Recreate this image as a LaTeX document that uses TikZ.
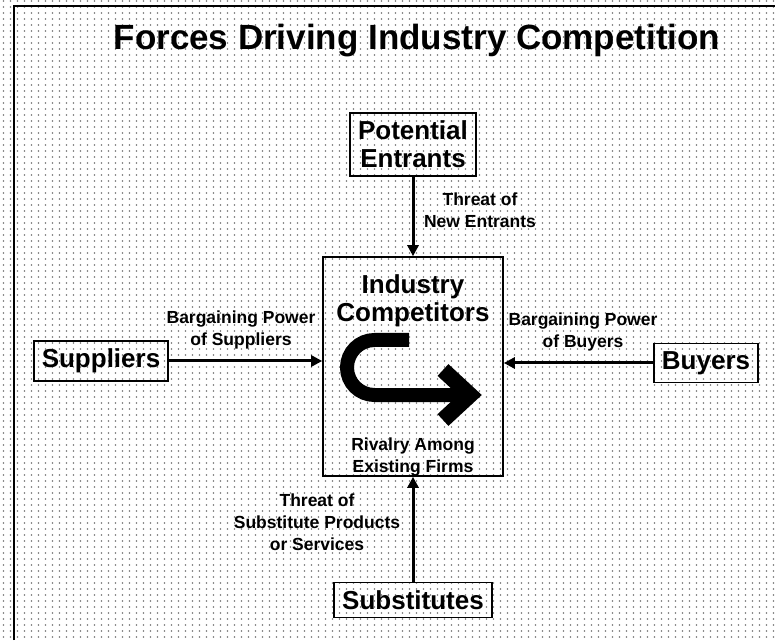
\documentclass[tikz,border=0pt]{standalone}
\usepackage{fontspec}
\setsansfont{Liberation Sans}
\usetikzlibrary{arrows.meta, patterns.meta}

\tikzdeclarepattern{
  name=screendots,
  type=uncolored,
  bottom left={(-.5pt,-.5pt)},
  top right={(7.5pt,6.5pt)},
  tile size={(7pt,6pt)},
  code={\fill (3.5pt,3pt) circle (0.8pt);}
}

\begin{document}
\begin{tikzpicture}[x=1pt, y=1pt,
  forcebox/.style={draw, line width=1.6pt, font=\sffamily\bfseries\fontsize{26}{28}\selectfont, align=center, inner xsep=8pt, inner ysep=8pt},
  forcelabel/.style={font=\sffamily\bfseries\fontsize{17.5}{22}\selectfont, align=center},
  force/.style={line width=3pt, -{Triangle[length=11pt,width=11pt]}}]
  \def\boxline{1.6pt}

  % Screened page and frame
  \useasboundingbox (0,0) rectangle (775,640);
  \fill[white] (0,0) rectangle (775,640);
  \fill[pattern=screendots, pattern color=black!55] (0,0) rectangle (775,640);
  \draw[line width=2pt] (14,0) -- (14,634) -- (775,634);

  % Title
  \node[font=\sffamily\bfseries\fontsize{35}{40}\selectfont, anchor=base] (title) at (417,590) {Forces Driving Industry Competition};

  % The five forces
  \node[forcebox] (entrants) at (413,495.5) {Potential\\Entrants};
  \node[draw, line width=\boxline, minimum width=180pt, minimum height=219pt] (industry) at (413,273.5) {};
  \node[font=\sffamily\bfseries\fontsize{26}{28}\selectfont, align=center] (industryname) at (413,339) {Industry\\Competitors};
  \node[forcelabel] (rivalry) at (413,182.5) {Rivalry Among\\Existing Firms};
  \node[forcebox] (suppliers) at (101,279) {Suppliers};
  \node[forcebox] (buyers) at (706,277) {Buyers};
  \node[forcebox] (substitutes) at (413,40) {Substitutes};

  % Pressures on the industry
  \draw[force] (entrants.south) -- (industry.north);
  \draw[force] (suppliers) -- (suppliers -| industry.west);
  \draw[force] (buyers) -- (buyers -| industry.east);
  \draw[force] (substitutes.north) -- (industry.south);

  % Labels on the arrows
  \node[forcelabel] (entrantsnote) at (480,430) {Threat of\\New Entrants};
  \node[forcelabel] (suppliersnote) at (241,310) {Bargaining Power\\of Suppliers};
  \node[forcelabel] (buyersnote) at (583,308) {Bargaining Power\\of Buyers};
  \node[forcelabel] (substitutesnote) at (317,118) {Threat of\\Substitute Products\\or Services};

  % Rivalry arrow
  \draw[line width=14pt] (409,300) -- (374.5,300) arc[start angle=90, end angle=270, radius=27.5] -- (468,245);
  \draw[line width=16pt, line join=miter] (443,270) -- (470,245) -- (443,220);
\end{tikzpicture}
\end{document}
